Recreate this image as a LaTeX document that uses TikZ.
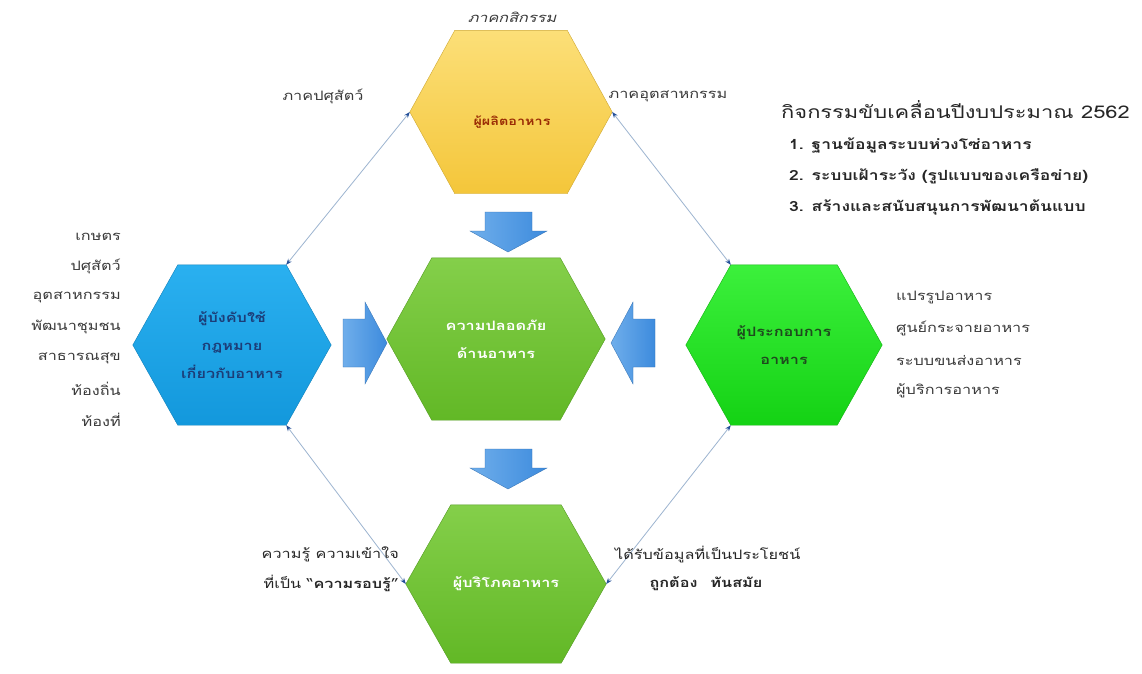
\documentclass[tikz,border=0pt]{standalone}
\usepackage{fontspec}
\newfontfamily\thai[Script=Thai,FakeStretch=1.25]{Loma}
\usetikzlibrary{arrows.meta,backgrounds,calc}
\definecolor{arrblue}{HTML}{3D8BDD}
\definecolor{arrblueL}{HTML}{6FAEEB}
\definecolor{connline}{HTML}{9DB5D0}
\definecolor{conntip}{HTML}{24509A}
\definecolor{yelT}{HTML}{FCDF78}
\definecolor{yelB}{HTML}{F4C63A}
\definecolor{grnT}{HTML}{84CF4A}
\definecolor{grnB}{HTML}{62B826}
\definecolor{bluT}{HTML}{2AB0F0}
\definecolor{bluB}{HTML}{1398DC}
\definecolor{limT}{HTML}{3CF03C}
\definecolor{limB}{HTML}{14D214}
\definecolor{txtgray}{HTML}{3A3A3A}
\definecolor{brownred}{HTML}{9A2C05}
\definecolor{navy}{HTML}{1C3D78}
\definecolor{darkgrn}{HTML}{1E4A1E}
\begin{document}
\begin{tikzpicture}[x=1pt,y=-1pt,
  every node/.style={font=\thai\fontsize{13}{15}\selectfont, text=txtgray, inner sep=1pt},
  hexnode/.style={rectangle, inner sep=0pt, minimum width=200, minimum height=165, align=center,
     font=\thai\bfseries\fontsize{13}{28}\selectfont},
  hexshape/.style={insert path={(#1.west) -- ([xshift=45]#1.north west) -- ([xshift=-45]#1.north east)
     -- (#1.east) -- ([xshift=-45]#1.south east) -- ([xshift=45]#1.south west) -- cycle}},
  blockarrow/.style={left color=arrblueL, right color=arrblue, draw=arrblue!80!black, line width=0.3pt},
  conn/.style={draw=connline, line width=0.8pt,
     {Stealth[length=6pt,width=4.5pt,color=conntip]}-{Stealth[length=6pt,width=4.5pt,color=conntip]}},
  lbl/.style={font=\thai\fontsize{13}{15}\selectfont},
  listb/.style={font=\thai\bfseries\fontsize{14}{16}\selectfont, text=black!85, anchor=west}
]
\useasboundingbox (0,0) rectangle (1142,673);

% hexagons
\node[hexnode, minimum width=202, minimum height=163] (T) at (511,112) {};
\node[hexnode, minimum width=218, minimum height=162, text=white] (C) at (496,339) {ความปลอดภัย\\ด้านอาหาร};
\node[hexnode, minimum width=198, minimum height=160, text=navy] (L) at (232,345) {ผู้บังคับใช้\\กฎหมาย\\เกี่ยวกับอาหาร};
\node[hexnode, minimum width=196, minimum height=160, text=darkgrn] (R) at (784,345) {ผู้ประกอบการ\\อาหาร};
\node[hexnode, minimum width=200, minimum height=158, text=white] (B) at (506,584) {ผู้บริโภคอาหาร};
\node[font=\thai\bfseries\fontsize{11.5}{13}\selectfont, text=brownred] (Ttext) at (512,122) {ผู้ผลิตอาหาร};

\begin{scope}[on background layer]
  \fill[white] (0,0) rectangle (1142,673);
  \path[hexshape=T, top color=yelT, bottom color=yelB, draw=yelB!85!black, line width=0.4pt];
  \path[hexshape=C, top color=grnT, bottom color=grnB, draw=grnB!85!black, line width=0.4pt];
  \path[hexshape=L, top color=bluT, bottom color=bluB, draw=bluB!85!black, line width=0.4pt];
  \path[hexshape=R, top color=limT, bottom color=limB, draw=limB!85!black, line width=0.4pt];
  \path[hexshape=B, top color=grnT, bottom color=grnB, draw=grnB!85!black, line width=0.4pt];
\end{scope}

% block arrows
\path[blockarrow] (485,212) -- (532,212) -- (532,231) -- (547,231) -- (508,252) -- (470,231) -- (485,231) -- cycle;
\path[blockarrow] (485,449) -- (532,449) -- (532,468) -- (547,468) -- (508,489) -- (470,468) -- (485,468) -- cycle;
\path[blockarrow] (343,319) -- (365,319) -- (365,302) -- (387,343) -- (365,384) -- (365,367) -- (343,367) -- cycle;
\path[blockarrow] (655,319) -- (633,319) -- (633,302) -- (611,343) -- (633,384) -- (633,367) -- (655,367) -- cycle;

% connectors
\draw[conn] (T.west) -- ([xshift=-45]L.north east);
\draw[conn] (T.east) -- ([xshift=45]R.north west);
\draw[conn] ([xshift=-45]L.south east) -- (B.west);
\draw[conn] ([xshift=45]R.south west) -- (B.east);

% labels around
\node[lbl] (lk) at (512,17) {\itshape ภาคกสิกรรม};
\node[lbl] (lp) at (323,96) {ภาคปศุสัตว์};
\node[lbl] (li) at (668,96) {ภาคอุตสาหกรรม};

\node[font=\thai\fontsize{17.5}{20}\selectfont, text=black!85, anchor=west] (title) at (780,110) {กิจกรรมขับเคลื่อนปีงบประมาณ 2562};
\node[listb] (i1) at (788,145) {1. ฐานข้อมูลระบบห่วงโซ่อาหาร};
\node[listb] (i2) at (788,176) {2. ระบบเฝ้าระวัง (รูปแบบของเครือข่าย)};
\node[listb] (i3) at (788,207) {3. สร้างและสนับสนุนการพัฒนาต้นแบบ};

\node[lbl, anchor=east] (a1) at (122,237) {เกษตร};
\node[lbl, anchor=east] (a2) at (122,266) {ปศุสัตว์};
\node[lbl, anchor=east] (a3) at (122,297) {อุตสาหกรรม};
\node[lbl, anchor=east] (a4) at (122,327) {พัฒนาชุมชน};
\node[lbl, anchor=east] (a5) at (122,358) {สาธารณสุข};
\node[lbl, anchor=east] (a6) at (122,389) {ท้องถิ่น};
\node[lbl, anchor=east] (a7) at (122,420) {ท้องที่};

\node[lbl, anchor=west] (b1) at (895,297) {แปรรูปอาหาร};
\node[lbl, anchor=west] (b2) at (895,328) {ศูนย์กระจายอาหาร};
\node[lbl, anchor=west] (b3) at (895,360) {ระบบขนส่งอาหาร};
\node[lbl, anchor=west] (b4) at (895,391) {ผู้บริการอาหาร};

\node[lbl, anchor=east, text=black!85] (c1) at (400,554) {ความรู้ ความเข้าใจ};
\node[lbl, anchor=east, text=black!85] (c2) at (400,583) {ที่เป็น “\textbf{ความรอบรู้}”};
\node[lbl, anchor=west, text=black!85] (d1) at (614,554) {ได้รับข้อมูลที่เป็นประโยชน์};
\node[lbl, text=black!85, font=\thai\bfseries\fontsize{13}{15}\selectfont] (d2) at (706,584) {ถูกต้อง\quad ทันสมัย};
\end{tikzpicture}
\end{document}
